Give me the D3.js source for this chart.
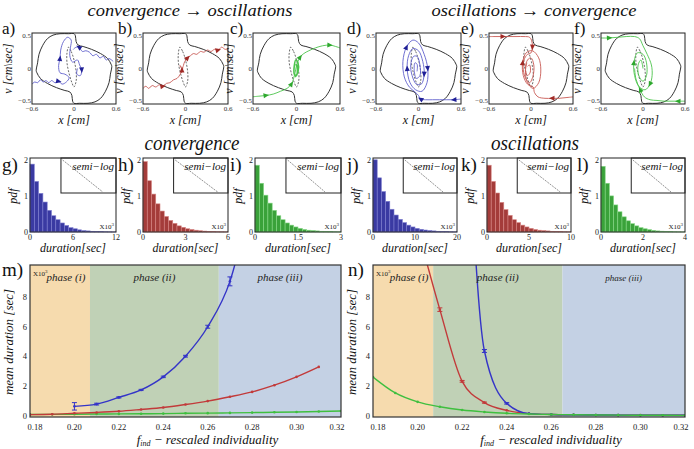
<!DOCTYPE html>
<html><head><meta charset="utf-8">
<script src="https://cdn.jsdelivr.net/npm/d3@7"></script>
<style>body{margin:0;background:#fff}svg{display:block}text{font-family:"Liberation Serif","DejaVu Serif","Times New Roman",serif}</style>
</head><body><svg id="c" width="694" height="449"></svg>
<script>
// ---------------- DATA ----------------
// outer limit cycle (upper half, mirrored through origin)
const cycleHalf = [[-0.54,-0.03],[-0.52,0.08],[-0.5,0.2],[-0.45,0.32],[-0.38,0.42],[-0.3,0.47],[-0.2,0.49],[-0.08,0.49],[0.0,0.49],[0.02,0.46],[0.03,0.38],[0.06,0.33],[0.13,0.31],[0.25,0.27],[0.38,0.21],[0.48,0.14],[0.53,0.06]];
// inner unstable cycle (dashed)
const innerCycle = [[-0.08,0.3],[-0.04,0.24],[0.0,0.12],[0.03,-0.04],[0.03,-0.18],[0.0,-0.26],[-0.03,-0.2],[-0.07,-0.07],[-0.1,0.08],[-0.1,0.22]];

const trajA1 = [[-0.6,-0.22],[-0.56,-0.19],[-0.52,-0.2],[-0.48,-0.16],[-0.44,-0.19],[-0.4,-0.17],[-0.36,-0.2],[-0.32,-0.17],[-0.27,-0.2],[-0.22,-0.18],[-0.17,-0.22],[-0.11,-0.19],[-0.07,-0.13],[-0.13,-0.08],[-0.2,-0.06],[-0.22,0.04],[-0.2,0.14],[-0.19,0.26],[-0.15,0.38],[-0.09,0.44],[-0.04,0.4],[-0.05,0.3],[-0.06,0.18],[-0.02,0.09],[0.05,0.12],[0.08,0.05],[0.11,-0.02],[0.09,-0.1],[0.04,-0.08],[0.05,0.0]];
const trajA2 = [[0.56,0.1],[0.5,0.14],[0.46,0.12],[0.42,0.17],[0.37,0.15],[0.32,0.2],[0.27,0.18],[0.22,0.23],[0.17,0.25],[0.12,0.24],[0.07,0.3],[0.03,0.3],[-0.01,0.27]];
const trajB = [[-0.6,-0.28],[-0.56,-0.25],[-0.52,-0.28],[-0.47,-0.24],[-0.42,-0.26],[-0.37,-0.23],[-0.32,-0.25],[-0.27,-0.21],[-0.22,-0.2],[-0.17,-0.16],[-0.12,-0.14],[-0.08,-0.09],[-0.05,-0.02],[-0.08,0.04],[-0.04,0.0],[-0.06,-0.06],[-0.03,0.04],[-0.01,0.1],[0.03,0.15],[0.07,0.18],[0.11,0.21],[0.16,0.2],[0.21,0.24],[0.26,0.23],[0.31,0.26],[0.36,0.24],[0.41,0.27],[0.46,0.26],[0.51,0.3],[0.56,0.27],[0.6,0.28]];
const trajC = [[-0.62,-0.4],[-0.52,-0.39],[-0.42,-0.38],[-0.32,-0.36],[-0.22,-0.32],[-0.13,-0.28],[-0.07,-0.22],[-0.04,-0.14],[-0.02,-0.06],[0.0,0.04],[0.02,0.1],[0.05,0.16],[0.1,0.21],[0.17,0.25],[0.26,0.29],[0.36,0.32],[0.46,0.33],[0.54,0.31],[0.6,0.29]];
const trajC2 = [[-0.02,-0.12],[0.02,-0.05],[0.02,0.08],[-0.01,0.12],[-0.03,0.04],[-0.03,-0.08],[0.0,-0.1],[0.01,0.02],[-0.01,0.06]];
const trajD = [[0.6,-0.43],[0.5,-0.44],[0.4,-0.44],[0.3,-0.44],[0.2,-0.44],[0.1,-0.44],[0.03,-0.43],[0.0,-0.38],[-0.05,-0.33],[-0.13,-0.26],[-0.2,-0.12],[-0.22,0.1],[-0.17,0.3],[-0.08,0.4],[0.0,0.36],[0.08,0.2],[0.13,0.0],[0.12,-0.2],[0.05,-0.32],[-0.04,-0.3],[-0.12,-0.2],[-0.16,0.0],[-0.14,0.18],[-0.08,0.28],[0.0,0.25],[0.06,0.1],[0.08,-0.08],[0.04,-0.22],[-0.03,-0.22],[-0.09,-0.1],[-0.11,0.05],[-0.07,0.17],[-0.02,0.17],[0.02,0.05],[0.02,-0.1],[-0.03,-0.14],[-0.06,-0.03],[-0.05,0.08],[-0.02,0.06],[-0.02,-0.04]];
const trajE1 = [[-0.6,0.45],[-0.5,0.45],[-0.4,0.45],[-0.3,0.45],[-0.2,0.45],[-0.1,0.45],[-0.02,0.44],[0.01,0.39],[0.02,0.3],[0.0,0.22],[-0.05,0.2],[-0.1,0.12],[-0.11,-0.02],[-0.07,-0.15],[-0.02,-0.2],[0.03,-0.1],[0.04,0.05],[0.0,0.15],[-0.05,0.12],[-0.08,0.0],[-0.05,-0.1],[-0.01,-0.05],[-0.02,0.05],[-0.05,0.03]];
const trajE2 = [[0.6,-0.4],[0.5,-0.41],[0.4,-0.42],[0.3,-0.42],[0.2,-0.42],[0.1,-0.4],[0.05,-0.34],[0.03,-0.26],[-0.05,-0.22],[-0.11,-0.1],[-0.12,0.08],[-0.07,0.22],[0.02,0.25],[0.11,0.15],[0.14,-0.02],[0.11,-0.2],[0.03,-0.28],[-0.05,-0.2],[-0.08,-0.05],[-0.06,0.08]];
const trajF1 = [[-0.6,0.43],[-0.48,0.43],[-0.36,0.44],[-0.24,0.45],[-0.12,0.45],[-0.05,0.42],[0.0,0.32],[0.06,0.2],[0.12,0.05],[0.13,-0.1],[0.1,-0.22],[0.03,-0.3],[-0.06,-0.25],[-0.12,-0.1],[-0.13,0.08],[-0.08,0.22],[0.0,0.2],[0.05,0.08],[0.05,-0.1],[0.0,-0.18],[-0.06,-0.1],[-0.07,0.05],[-0.03,0.12],[0.0,0.0]];
const trajF2 = [[0.6,-0.46],[0.5,-0.46],[0.4,-0.46],[0.3,-0.46],[0.2,-0.45],[0.1,-0.44],[0.02,-0.4],[-0.04,-0.3],[-0.1,-0.15],[-0.12,0.0]];

const portraitXTicks = ["\u22120.6","0","0.6"];
const portraitYTicks = ["0.5","0","\u22120.5"];

// histograms (pdf per bin, 20 bins across the axis range, x10^3 sec)
const histG = [1.88,1.4,1.07,0.83,0.6,0.45,0.34,0.25,0.18,0.12,0.09,0.06,0.04,0.03,0.02,0.015,0.01,0.007,0.005,0.003];
const histH = [1.95,1.42,1.05,0.78,0.58,0.43,0.32,0.24,0.17,0.13,0.09,0.07,0.05,0.035,0.025,0.018,0.012,0.008,0.006,0.004];
const histI = [1.85,1.35,1.02,0.8,0.6,0.45,0.34,0.25,0.19,0.14,0.1,0.07,0.05,0.04,0.03,0.02,0.015,0.01,0.007,0.005];
const histJ = [2.0,1.5,1.12,0.85,0.63,0.47,0.35,0.26,0.19,0.14,0.1,0.075,0.055,0.04,0.03,0.02,0.015,0.01,0.007,0.005];
const histK = [1.85,1.4,1.08,0.82,0.62,0.46,0.34,0.26,0.19,0.14,0.1,0.07,0.05,0.04,0.03,0.02,0.015,0.01,0.007,0.005];
const histL = [1.82,1.35,1.0,0.75,0.56,0.42,0.31,0.23,0.17,0.12,0.09,0.065,0.045,0.03,0.022,0.015,0.01,0.007,0.005,0.003];
const histMax = [12,6,3,20,10,4];
const histXTicks = [["0","6","12"],["0","3","6"],["0","1.5","3"],["0","10","20"],["0","5","10"],["0","2","4"]];
const histYTicks = [0,1,2];
// semi-log inset: end of straight line as fraction of inset width
const insetEnd = [0.76,0.81,0.71,0.74,0.8,0.74];

// mean duration vs f_ind
const mBlueX = [0.20,0.21,0.22,0.23,0.24,0.25,0.26,0.27,0.28];
const mBlueY = [0.65,0.8,1.25,1.75,2.63,4.02,6.0,9.05,15.0];
const mBlueErr = [0.25,0.06,0.04,0.04,0.05,0.06,0.1,0.3,0];
const mRedX = [0.18,0.19,0.20,0.21,0.22,0.23,0.24,0.25,0.26,0.27,0.28,0.29,0.30,0.31];
const mRedY = [0.09,0.12,0.18,0.24,0.32,0.44,0.57,0.77,1.0,1.29,1.62,2.07,2.63,3.3];
const mGreenX = [0.18,0.19,0.20,0.21,0.22,0.23,0.24,0.25,0.26,0.27,0.28,0.29,0.30,0.31,0.32];
const mGreenY = [0.1,0.11,0.12,0.13,0.14,0.15,0.16,0.18,0.19,0.21,0.23,0.25,0.27,0.3,0.34];

const nRedX = [0.20,0.21,0.22,0.23,0.24,0.25,0.26,0.27,0.28,0.29,0.30,0.31,0.32];
const nRedY = [12.6,7.15,2.33,0.9,0.38,0.16,0.1,0.08,0.07,0.06,0.06,0.05,0.05];
const nRedErr = [0,0.12,0.06,0.04,0,0,0,0,0,0,0,0,0];
const nBlueX = [0.22,0.23,0.24,0.25,0.26,0.27,0.28,0.29,0.30,0.31,0.32];
const nBlueY = [28.7,4.37,0.85,0.16,0.1,0.08,0.07,0.06,0.05,0.05,0.05];
const nBlueErr = [0,0.1,0.05,0,0,0,0,0,0,0,0];
const nGreenX = [0.18,0.19,0.20,0.21,0.22,0.23,0.24,0.25,0.26,0.27,0.28,0.29,0.30,0.31,0.32];
const nGreenY = [2.62,1.55,0.95,0.62,0.4,0.27,0.18,0.13,0.1,0.08,0.07,0.06,0.05,0.05,0.04];

const phaseBounds = [0.18,0.207,0.265,0.32];
const phaseNames = ["phase (i)","phase (ii)","phase (iii)"];
const fTicks = [0.18,0.20,0.22,0.24,0.26,0.28,0.30,0.32];
const durTicks = [0,2,4,6,8];

// ---------------- DRAWING ----------------
const svg = d3.select("#c");
const SERIF = '"Liberation Serif","DejaVu Serif","Times New Roman",serif';
const defs = svg.append("defs");
let clipId = 0;
function clip(x,y,w,h){ const id="cl"+(clipId++); defs.append("clipPath").attr("id",id).append("rect").attr("x",x).attr("y",y).attr("width",w).attr("height",h); return "url(#"+id+")"; }
function txt(x,y,s,size,opts={}){
  const t = svg.append("text").attr("x",x).attr("y",y).style("font-family",SERIF).attr("font-size",size)
    .attr("text-anchor",opts.anchor||"middle").attr("fill",opts.fill||"#111");
  if(opts.italic) t.style("font-style","italic");
  if(opts.rotate) t.attr("transform",`rotate(-90,${x},${y})`);
  if(opts.len) t.attr("textLength",opts.len).attr("lengthAdjust","spacingAndGlyphs");
  t.text(s); return t;
}

// titles
txt(190,16,"convergence \u2192 oscillations",17,{italic:true,len:205});
txt(534,16,"oscillations \u2192 convergence",17,{italic:true,len:205});
txt(192,150,"convergence",20,{italic:true,len:95});
txt(535,150,"oscillations",20,{italic:true,len:88});

// ---- phase portraits ----
const portraits = [
  {lab:"a)",lx:2,x0:32,x1:116,line:"#6060cc",dark:"#1f1f96",trajs:[trajA1,trajA2],arrows:[[0,9],[0,16],[0,26],[1,10]]},
  {lab:"b)",lx:118,x0:143,x1:228,line:"#c85a55",dark:"#a02a26",trajs:[trajB],arrows:[[0,6],[0,12],[0,18],[0,27]]},
  {lab:"c)",lx:230,x0:253,x1:340,line:"#4cc44c",dark:"#2ea82e",trajs:[trajC,trajC2],arrows:[[0,2],[0,6],[0,11],[0,16]]},
  {lab:"d)",lx:347,x0:376,x1:461,line:"#6060cc",dark:"#1f1f96",trajs:[trajD],arrows:[[0,1],[0,6],[0,12],[0,16],[0,21],[0,26]]},
  {lab:"e)",lx:461,x0:489,x1:573,line:"#c85a55",dark:"#a02a26",trajs:[trajE1,trajE2],arrows:[[0,2],[0,8],[1,3],[1,10]]},
  {lab:"f)",lx:574,x0:601,x1:685,line:"#4cc44c",dark:"#2ea82e",trajs:[trajF1,trajF2],arrows:[[0,1],[0,10],[0,14],[1,1],[1,7]]}
];
const fullCycle = cycleHalf.concat(cycleHalf.map(([a,b])=>[-a,-b]));
portraits.forEach(p=>{
  const top=33,bot=104;
  const x=d3.scaleLinear().domain([-0.6,0.6]).range([p.x0,p.x1]);
  const y=d3.scaleLinear().domain([-0.5,0.5]).range([bot,top]);
  const g=svg.append("g").attr("clip-path",clip(p.x0,top,p.x1-p.x0,bot-top));
  g.append("path").attr("d",d3.line().x(d=>x(d[0])).y(d=>y(d[1])).curve(d3.curveCatmullRomClosed.alpha(0.5))(fullCycle))
    .attr("fill","none").attr("stroke","#333").attr("stroke-width",1);
  g.append("path").attr("d",d3.line().x(d=>x(d[0])).y(d=>y(d[1])).curve(d3.curveCatmullRomClosed.alpha(0.5))(innerCycle))
    .attr("fill","none").attr("stroke","#444").attr("stroke-width",0.8).attr("stroke-dasharray","2,1.5");
  const ln=d3.line().x(d=>x(d[0])).y(d=>y(d[1])).curve(d3.curveCatmullRom.alpha(0.5));
  p.trajs.forEach((t,i)=>{
    g.append("path").attr("d",ln(t)).attr("fill","none").attr("stroke",p.line).attr("stroke-width",i===1&&p.lab==="c)"?1.6:0.9);
  });
  p.arrows.forEach(([ti,idx])=>{
    const t=p.trajs[ti];
    const a=t[Math.max(0,idx-1)], b=t[Math.min(t.length-1,idx+1)], c=t[idx];
    const ang=Math.atan2(y(b[1])-y(a[1]), x(b[0])-x(a[0]))*180/Math.PI;
    g.append("path").attr("d","M3,0 L-2.5,-2.5 L-2.5,2.5 Z").attr("fill",p.dark)
      .attr("transform",`translate(${x(c[0])},${y(c[1])}) rotate(${ang})`);
  });
  svg.append("rect").attr("x",p.x0).attr("y",top).attr("width",p.x1-p.x0).attr("height",bot-top)
    .attr("fill","none").attr("stroke","#222").attr("stroke-width",1);
  [-0.6,0,0.6].forEach((v,i)=>txt(x(v),bot+7,portraitXTicks[i],7,{fill:"#333"}));
  const yOff=[5,2.5,-1];
  [0.5,0,-0.5].forEach((v,i)=>txt(p.x0-1,y(v)+yOff[i],portraitYTicks[i],7,{anchor:"end",fill:"#333"}));
  txt((p.x0+p.x1)/2,124,"x [cm]",12,{italic:true});
  txt(p.x0-20,68.5,"v [cm\\sec]",12,{italic:true,rotate:true});
  txt(p.lx,34,p.lab,17,{anchor:"start"});
});

// ---- histograms ----
const hists = [
  {lab:"g)",lx:2,x0:30,x1:116,data:histG,fill:"#3a3aa2",edge:"#7f7fd0"},
  {lab:"h)",lx:118,x0:143,x1:228,data:histH,fill:"#a43c3a",edge:"#d78684"},
  {lab:"i)",lx:230,x0:255,x1:341,data:histI,fill:"#3aa23a",edge:"#86d886"},
  {lab:"j)",lx:347,x0:373,x1:457,data:histJ,fill:"#3a3aa2",edge:"#7f7fd0"},
  {lab:"k)",lx:461,x0:487,x1:571,data:histK,fill:"#a43c3a",edge:"#d78684"},
  {lab:"l)",lx:577,x0:601,x1:685,data:histL,fill:"#3aa23a",edge:"#86d886"}
];
hists.forEach((h,hi)=>{
  const top=158,bot=232;
  const mx=histMax[hi], bw=mx/h.data.length;
  const x=d3.scaleLinear().domain([0,mx]).range([h.x0,h.x1]);
  const y=d3.scaleLinear().domain([0,2.05]).range([bot,top]);
  svg.append("g").selectAll("rect").data(h.data).join("rect")
    .attr("x",(d,i)=>x(i*bw)).attr("width",(d,i)=>x((i+1)*bw)-x(i*bw))
    .attr("y",d=>y(d)).attr("height",d=>bot-y(d))
    .attr("fill",h.fill).attr("stroke",h.edge).attr("stroke-width",0.6);
  const ix0 = h.x0 + (h.x1-h.x0)*0.36, iy1 = 193;
  const ix=d3.scaleLinear().domain([0,1]).range([ix0,h.x1]);
  const iy=d3.scaleLinear().domain([-1,0]).range([iy1-1,top+2]);
  svg.append("rect").attr("x",ix0).attr("y",top).attr("width",h.x1-ix0).attr("height",iy1-top)
    .attr("fill","#fff").attr("stroke","#222").attr("stroke-width",1);
  svg.append("path").attr("d",d3.line().x(d=>ix(d[0])).y(d=>iy(d[1]))([[0.03,0],[insetEnd[hi],-1]]))
    .attr("stroke","#777").attr("stroke-width",0.8).attr("stroke-dasharray","2,1").attr("fill","none");
  txt(h.x1-2,top+12,"semi\u2212log",11,{italic:true,anchor:"end"});
  svg.append("rect").attr("x",h.x0).attr("y",top).attr("width",h.x1-h.x0).attr("height",bot-top)
    .attr("fill","none").attr("stroke","#222").attr("stroke-width",1);
  const xt=[0,mx/2,mx];
  xt.forEach((v,i)=>txt(x(v),240,histXTicks[hi][i],8,{fill:"#222"}));
  histYTicks.forEach(v=>txt(h.x0-2,y(v)+3,String(v),8,{anchor:"end",fill:"#222"}));
  const xl = txt(h.x1-2,bot-3,"X10",7,{anchor:"end",fill:"#222"});
  xl.append("tspan").attr("dy",-3).attr("font-size",5).text("3");
  txt((h.x0+h.x1)/2,252,"duration[sec]",12,{italic:true});
  txt(h.x0-13,196,"pdf",12,{italic:true,rotate:true});
  txt(h.lx,171,h.lab,19,{anchor:"start"});
});

// ---- mean duration panels ----
const phaseCols = ["#f6dbae","#c0d1b6","#c4d1e4"];
const bottomPanels = [
  {lab:"m)",lx:2,x0:30,x1:341,series:[
     {x:mGreenX,y:mGreenY,c:"#3fbf3f"},{x:mRedX,y:mRedY,c:"#c23a3a"},{x:mBlueX,y:mBlueY,e:mBlueErr,c:"#3434c8"}],iiiSize:11},
  {lab:"n)",lx:348,x0:373,x1:685,series:[
     {x:nRedX,y:nRedY,e:nRedErr,c:"#c23a3a"},{x:nBlueX,y:nBlueY,e:nBlueErr,c:"#3434c8"},{x:nGreenX,y:nGreenY,c:"#3fbf3f"}],iiiSize:9}
];
bottomPanels.forEach(p=>{
  const top=265,bot=417;
  const x=d3.scaleLinear().domain([0.18,0.32]).range([p.x0,p.x1]);
  const y=d3.scaleLinear().domain([0,10.15]).range([bot-1,top]);
  for(let i=0;i<3;i++){
    svg.append("rect").attr("x",x(phaseBounds[i])).attr("y",top).attr("width",x(phaseBounds[i+1])-x(phaseBounds[i])).attr("height",bot-top).attr("fill",phaseCols[i]);
  }
  const g=svg.append("g").attr("clip-path",clip(p.x0,top,p.x1-p.x0,bot-top));
  p.series.forEach(s=>{
    const pts=s.x.map((v,i)=>[v,s.y[i],s.e?s.e[i]:0]);
    g.append("path").attr("d",d3.line().x(d=>x(d[0])).y(d=>y(d[1])).curve(d3.curveMonotoneX)(pts))
      .attr("fill","none").attr("stroke",s.c).attr("stroke-width",1.4);
    g.selectAll(null).data(pts).join("circle").attr("cx",d=>x(d[0])).attr("cy",d=>y(d[1])).attr("r",1.3).attr("fill",s.c);
    pts.filter(d=>d[2]>0).forEach(d=>{
      const yy0=y(d[1]-d[2]), yy1=y(d[1]+d[2]), xx=x(d[0]);
      g.append("path").attr("d",`M${xx},${yy0}V${yy1}M${xx-2.5},${yy0}H${xx+2.5}M${xx-2.5},${yy1}H${xx+2.5}`)
        .attr("stroke",s.c).attr("stroke-width",1).attr("fill","none");
    });
  });
  svg.append("rect").attr("x",p.x0).attr("y",top).attr("width",p.x1-p.x0).attr("height",bot-top)
    .attr("fill","none").attr("stroke","#333").attr("stroke-width",1.2);
  txt(x((phaseBounds[0]+phaseBounds[1])/2)+6,281,phaseNames[0],11,{italic:true,fill:"#222"});
  txt(x((phaseBounds[1]+phaseBounds[2])/2),281,phaseNames[1],11,{italic:true,fill:"#222"});
  txt(x((phaseBounds[2]+phaseBounds[3])/2),281,phaseNames[2],p.iiiSize,{italic:true,fill:"#222"});
  const xl=txt(p.x0+3,276,"X10",7,{anchor:"start",fill:"#222"});
  xl.append("tspan").attr("dy",-3).attr("font-size",5).text("3");
  fTicks.forEach(v=>{
    let xx=x(v); if(v===0.18) xx+=5; if(v===0.32) xx-=4;
    txt(xx,430,v.toFixed(2),8.5,{fill:"#222"});
  });
  durTicks.forEach(v=>txt(p.x0-3,y(v)+3,String(v),8.5,{anchor:"end",fill:"#222"}));
  txt(p.x0-17,342,"mean duration [sec]",13,{italic:true,rotate:true});
  const fl=txt((p.x0+p.x1)/2+22,444,"",13,{italic:true});
  fl.append("tspan").text("f");
  fl.append("tspan").attr("dy",2).attr("font-size",8).text("ind");
  fl.append("tspan").attr("dy",-2).text("  \u2212  rescaled individuality");
  txt(p.lx,276,p.lab,19,{anchor:"start"});
});
</script>
</body></html>
